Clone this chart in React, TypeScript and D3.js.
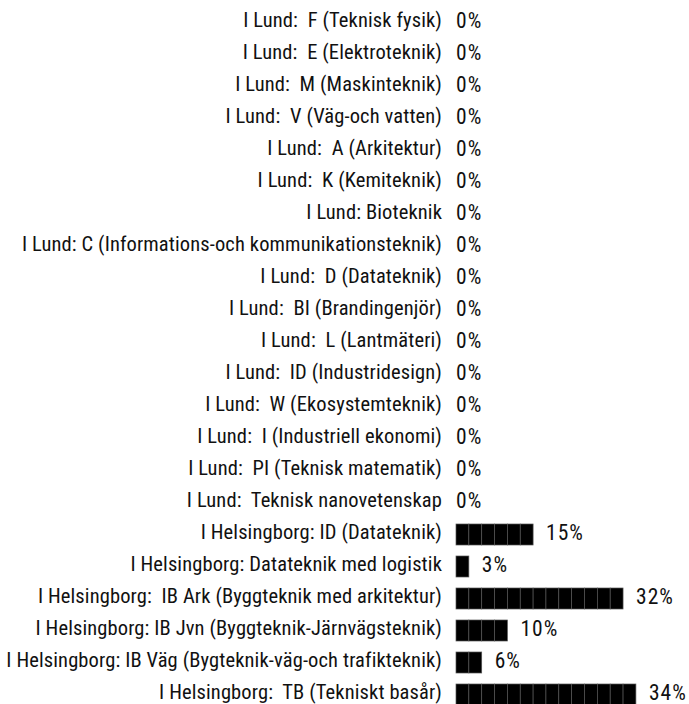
import * as d3 from "d3";

const categories = [
  "I Lund:  F (Teknisk fysik)",
  "I Lund:  E (Elektroteknik)",
  "I Lund:  M (Maskinteknik)",
  "I Lund:  V (Väg-och vatten)",
  "I Lund:  A (Arkitektur)",
  "I Lund:  K (Kemiteknik)",
  "I Lund: Bioteknik",
  "I Lund: C (Informations-och kommunikationsteknik)",
  "I Lund:  D (Datateknik)",
  "I Lund:  BI (Brandingenjör)",
  "I Lund:  L (Lantmäteri)",
  "I Lund:  ID (Industridesign)",
  "I Lund:  W (Ekosystemteknik)",
  "I Lund:  I (Industriell ekonomi)",
  "I Lund:  PI (Teknisk matematik)",
  "I Lund:  Teknisk nanovetenskap",
  "I Helsingborg: ID (Datateknik)",
  "I Helsingborg: Datateknik med logistik",
  "I Helsingborg:  IB Ark (Byggteknik med arkitektur)",
  "I Helsingborg: IB Jvn (Byggteknik-Järnvägsteknik)",
  "I Helsingborg: IB Väg (Bygteknik-väg-och trafikteknik)",
  "I Helsingborg:  TB (Tekniskt basår)",
];

const values = [0, 0, 0, 0, 0, 0, 0, 0, 0, 0, 0, 0, 0, 0, 0, 0, 15, 3, 32, 10, 6, 34];

// one block = 2.5 %
const blockSize = 2.5;

const font = "Roboto, sans-serif";

export default function App() {
  const width = 689;
  const height = 704;

  const y = d3.scalePoint<string>().domain(categories).range([27, 699]);
  const x = d3.scaleLinear().domain([0, 14]).range([456, 456 + 14 * 12.85]);

  return (
    <svg width={width} height={height} style={{ display: "block", position: "absolute", left: 0, top: 0 }}>
      {categories.map((c, i) => {
        const v = values[i];
        const n = Math.round(v / blockSize);
        const by = y(c)!;
        const blocks = d3.range(n);
        const labelX = n > 0 ? x(n) + 13 : x(0);
        return (
          <g key={c}>
            <text
              x={442}
              y={by}
              textAnchor="end"
              fontFamily={font}
              fontSize={20.5}
              letterSpacing={0.12}
              fill="#111"
              style={{ fontStretch: "condensed", whiteSpace: "pre" }}
            >
              {c}
            </text>
            {blocks.map((b) => (
              <rect
                key={b}
                x={x(b)}
                y={by - 15}
                width={x(b + 1) - x(b)}
                height={21}
                fill="#000"
                stroke="#555"
                strokeWidth={0.7}
              />
            ))}
            <text
              x={labelX}
              y={by + 0.5}
              fontFamily={font}
              fontSize={21.5}
              letterSpacing={1}
              fill="#111"
              style={{ fontStretch: "condensed" }}
            >
              {v}%
            </text>
          </g>
        );
      })}
    </svg>
  );
}
